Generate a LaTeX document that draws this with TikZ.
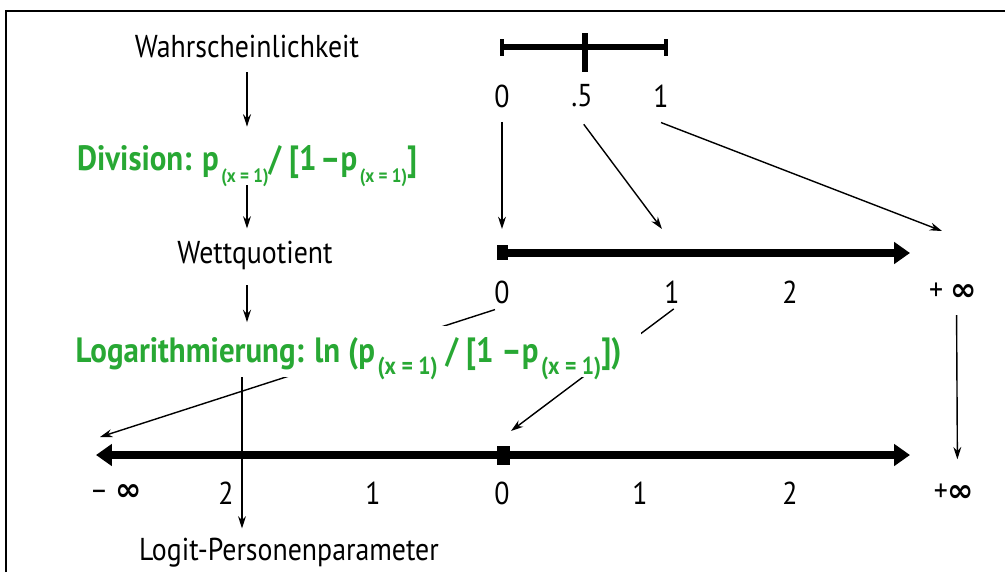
\documentclass[tikz,border=0pt]{standalone}
\usepackage{fontspec}
\setmainfont{PT Sans}[FakeStretch=0.88]
\newfontfamily\inffont{DejaVu Sans}
\usetikzlibrary{arrows.meta}

\definecolor{logitgreen}{RGB}{40,168,52}
\newcommand{\xsub}[2][11]{\kern1.5pt\raisebox{-0.7ex}{\fontsize{#1}{#1}\selectfont #2}}
\newcommand{\infsym}{{\inffont\bfseries ∞}}

\begin{document}
\begin{tikzpicture}[x=0.02cm,y=-0.02cm,
    lbl/.style={font=\fontsize{18}{18}\selectfont, inner sep=1pt},
    grn/.style={font=\fontsize{20}{20}\selectfont\bfseries, text=logitgreen,
                inner sep=1pt, text height=15pt, text depth=3pt},
    thinarrow/.style={line width=0.8pt, -{Stealth[length=7pt,width=4.5pt]}},
    axisline/.style={line width=4.5pt},
    bigtip/.tip={Triangle[length=9pt,width=12pt]}]
\useasboundingbox (0,0) rectangle (1005,572);

% Frame
\draw[line width=1.3pt] (6,572) -- (6,11) -- (1005,11);

%%%%%%%%%%%% Left column %%%%%%%%%%%%%%%%%%%
\coordinate (lc) at (247,0);
\coordinate (lc4) at (242,0);
\node[lbl, anchor=base] (wahr) at (247,57) {Wahrscheinlichkeit};
\node[grn, anchor=base west] (div) at (75,170)
  {Division: p\xsub{(x = 1)}/ [1\kern2pt–p\xsub{(x = 1)}]};
\node[lbl, anchor=base] (wett) at (255,263) {Wettquotient};
\node[lbl, anchor=base] (logit) at (289,560) {Logit-Personenparameter};

%%%%%%%%%%%% Probability scale %%%%%%%%%%%%%%%%%%%
\draw[line width=3.4pt] (502,47) -- (666,47);
\draw[line width=2.6pt] (502,39) -- (502,56);
\draw[line width=2.6pt] (666,39) -- (666,56);
\draw[line width=3.4pt] (585,33) -- (585,72);
\node[lbl] (p0) at (502,96) {0};
\node[lbl] (ph) at (582,96) {.5};
\node[lbl] (p1) at (661,96) {1};

%%%%%%%%%%%% Odds axis %%%%%%%%%%%%%%%%%%%
\fill (497,245) rectangle (508,260);
\draw[axisline, -bigtip] (506,253) -- (910,253);
\node[lbl] (w0) at (502,292) {0};
\node[lbl] (w1) at (672,292) {1};
\node[lbl] (w2) at (790,292) {2};
\node[lbl] (winf) at (953,292) {+ \infsym};

%%%%%%%%%%%% Logit axis %%%%%%%%%%%%%%%%%%%
\fill (497,446) rectangle (510,465);
\draw[axisline, bigtip-bigtip] (96,455) -- (910,455);
\node[lbl] (bminf) at (116,493) {– \infsym};
\node[lbl] (b2l) at (226,493) {2};
\node[lbl] (b1l) at (373,493) {1};
\node[lbl] (b0) at (502,493) {0};
\node[lbl] (b1r) at (640,493) {1};
\node[lbl] (b2r) at (790,493) {2};
\node[lbl] (binf) at (954,493) {+\infsym};

% free arrow ends
\coordinate (q0) at (502,229);
\coordinate (q1) at (662,229);
\coordinate (qinf) at (942,231);
\coordinate (nminf) at (100,437);
\coordinate (n0) at (511,431);

% Arrows prob -> odds
\draw[thinarrow] ([yshift=-7pt]p0.south) -- (q0);
\draw[thinarrow] ([xshift=1pt,yshift=-8.5pt]ph.south) -- (q1);
\draw[thinarrow] ([yshift=-7.5pt]p1.south) -- (qinf);

% Arrows odds -> logit
\draw[thinarrow] ([xshift=-4pt,yshift=-2.3pt]w0.south) -- (nminf);
\draw[thinarrow] ([xshift=1pt,yshift=-2pt]w1.south) -- (n0);
\draw[thinarrow, shorten <=7pt, shorten >=13pt] ([xshift=2pt]winf.south) -- ([xshift=2pt]binf.north);

%Log text with white box (hides the crossing lines)
\node[grn, anchor=base west, fill=white, inner xsep=11pt, inner ysep=5.5pt] (logar) at (56,362)
  {Logarithmierung: ln (p\xsub[14]{(x = 1)} / [1 –p\xsub[14]{(x = 1)}])};

% Left column arrows
\draw[thinarrow, shorten <=7.4pt, shorten >=8.5pt] (wahr.south -| lc) -- (div.north -| lc);
\draw[thinarrow, shorten <=4.5pt, shorten >=5.7pt] (div.south -| lc) -- (wett.north -| lc);
\draw[thinarrow, shorten <=8pt, shorten >=2pt] (wett.south -| lc) -- (logar.north -| lc);
\draw[thinarrow, shorten >=4pt] (logar.south -| lc4) -- (logit.north -| lc4);

\end{tikzpicture}
\end{document}
